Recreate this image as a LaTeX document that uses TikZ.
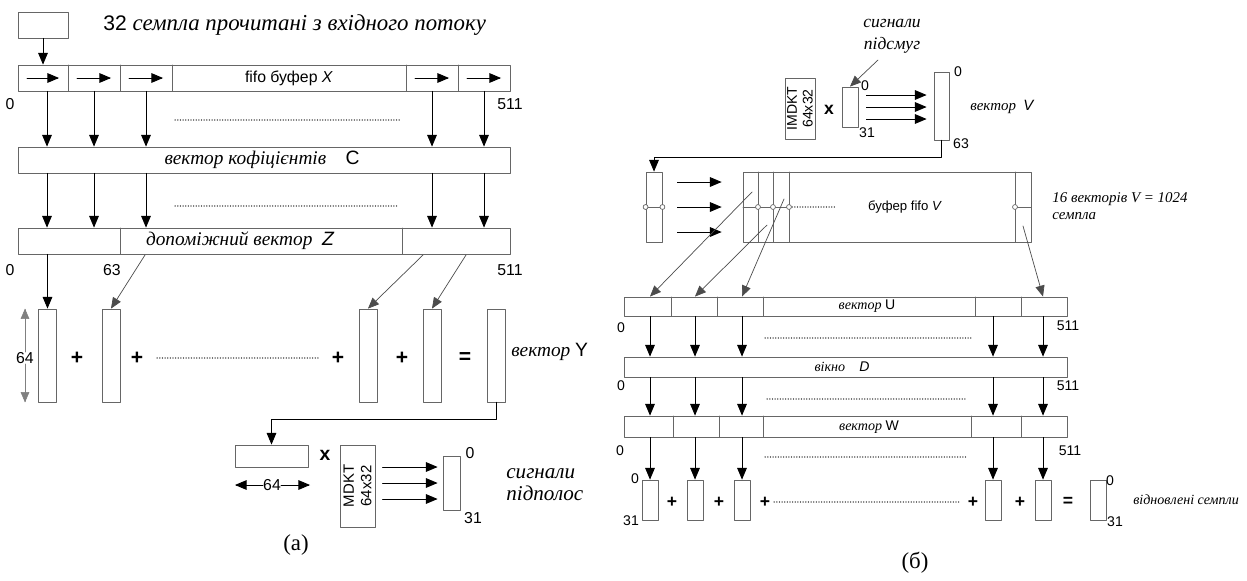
\documentclass[tikz,border=0pt]{standalone}
\usepackage{fontspec}
\setmainfont{Liberation Serif}
\setsansfont{Liberation Sans}
\usetikzlibrary{arrows, calc}

\begin{document}
\begin{tikzpicture}[line cap=round,line join=round,>=triangle 45,x=0.02cm,y=-0.02cm,
		cell/.style={draw=black!60, line width=0.5pt, inner sep=0pt},
		arr/.style={->, draw=black, line width=0.5pt},
		slant/.style={->, draw=black!70, line width=0.4pt},
		dots/.style={draw=black!55, line width=0.6pt, dash pattern=on 0.2pt off 1.3pt},
		numa/.style={font=\sffamily\fontsize{9}{10}\selectfont, inner sep=0pt},
		numb/.style={font=\sffamily\fontsize{8}{9}\selectfont, inner sep=0pt},
		ita/.style={font=\itshape\fontsize{11}{13}\selectfont, inner sep=0pt},
		itb/.style={font=\itshape\fontsize{8}{10}\selectfont, inner sep=0pt},
		op/.style={font=\sffamily\bfseries\fontsize{12}{12}\selectfont, inner sep=0pt}]
		\useasboundingbox (0,0) rectangle (1247,581);
		% (а): input samples and fifo X
		\node[cell, minimum width=1cm, minimum height=0.52cm] (inb) at (43,25) {};
		\node[anchor=west, inner sep=0pt] (intxt) at (103,25) {\sffamily\fontsize{12}{14}\selectfont 32 \rmfamily\itshape\fontsize{13}{15}\selectfont семпла прочитані з вхідного потоку};
		\node[cell, minimum width=9.84cm, minimum height=0.52cm] (fx) at (264,78) {};
		\foreach \x in {68,120,172,406,458} \draw[draw=black!60] (\x,65) -- (\x,91);
		\foreach \l/\r in {18/68,68/120,120/172,406/458,458/510}
			\draw[arr] (\l+9,78) -- (\r-9,78);
		\node[font=\sffamily\fontsize{9}{10}\selectfont] (fxl) at (289,78) {fifo буфер \textit{X}};
		\draw[arr] (inb.south) -- (inb.south |- fx.north);
		\node[numa] (fx0) at (10,104) {0};
		\node[numa] (fx511) at (510,104) {511};
		% coefficients C and vector Z
		\foreach \i/\x in {1/47,2/94,3/146,4/432,5/484} \coordinate (a\i) at (\x,0);
		\node[cell, minimum width=9.84cm, minimum height=0.52cm] (cv) at (264,160) {};
		\node[ita] (cvl) at (262,160) {вектор кофіцієнтів\quad \upshape\sffamily C};
		\node[cell, minimum width=9.84cm, minimum height=0.52cm] (zv) at (264,241) {};
		\foreach \x in {120,402} \draw[draw=black!60] (\x,228) -- (\x,254);
		\node[ita] (zvl) at (240,241) {допоміжний вектор\enspace \sffamily Z};
		\foreach \i in {1,...,5} {
			\draw[arr] (a\i |- fx.south) -- (a\i |- cv.north);
			\draw[arr] (a\i |- cv.south) -- (a\i |- zv.north);
		}
		\draw[dots] (175,120) -- (400,120);
		\draw[dots] (175,206) -- (398,206);
		\node[numa] (zv0) at (10,270) {0};
		\node[numa] (zv63) at (112,270) {63};
		\node[numa] (zv511) at (510,270) {511};
		% sum of columns
		\foreach \n/\x in {c1/47.5,c2/111,c3/368,c4/432,c5/496}
			\node[cell, minimum width=0.36cm, minimum height=1.86cm] (\n) at (\x,355.5) {};
		\foreach \n/\x in {p1/77,p2/137,p3/338,p4/402} \node[op] (\n) at (\x,358) {+};
		\node[op] (eq) at (465,358) {=};
		\draw[dots] (157,358) -- (320,358);
		\node[numa] (h64) at (25,358) {64};
		\draw[->, draw=black!50, line width=0.3pt] (h64.north) -- (h64.north |- c1.north);
		\draw[->, draw=black!50, line width=0.3pt] (h64.south) -- (h64.south |- c1.south);
		\node[ita, anchor=west] (yl) at (511,352) {вектор \upshape\sffamily Y};
		\coordinate (z2) at (145,255);
		\coordinate (z3) at (423,255);
		\coordinate (z4) at (466,255);
		\draw[arr] (c1.north |- zv.south) -- (c1.north);
		\draw[slant] (z2) -- (c2.north);
		\draw[slant] (z3) -- (c3.north);
		\draw[slant] (z4) -- (c4.north);
		% MDKT
		\node[cell, minimum width=1.46cm, minimum height=0.44cm] (bx) at (271.5,456) {};
		\draw[arr] (c5.south) -- ++(0,17) -| (bx.north);
		\node[op, font=\sffamily\bfseries\fontsize{11}{11}\selectfont] (mx) at (325,455) {x};
		\node[numa] (w64) at (272,485) {64};
		\coordinate (wl) at (235,485);
		\coordinate (wr) at (310,485);
		\draw[arr] (w64.west) -- (wl);
		\draw[arr] (w64.east) -- (wr);
		\node[cell, rotate=90, minimum width=1.64cm, minimum height=0.7cm, align=center, font=\sffamily\fontsize{8.5}{10}\selectfont] (mk) at (357.5,486) {MDKT\\64x32};
		\node[cell, minimum width=0.34cm, minimum height=1.08cm] (so) at (451.5,483) {};
		\foreach \d in {-16,0,16}
			\draw[arr] ($(so.west)+(-60,\d)$) -- ($(so.west)+(-5,\d)$);
		\node[numa] (so0) at (470,453) {0};
		\node[numa] (so31) at (473,518) {31};
		\node[anchor=west, align=left, inner sep=0pt, font=\itshape\fontsize{12}{12.5}\selectfont] (sbl) at (506,485) {сигнали\\підполос};
		\node[font=\fontsize{13}{15}\selectfont] (capa) at (296,545) {(а)};
		% (б): IMDKT and vector V
		\node[align=center, inner sep=0pt, font=\itshape\fontsize{10}{12.5}\selectfont] (sig) at (892,36) {сигнали\\підсмуг};
		\node[cell, rotate=90, minimum width=1.22cm, minimum height=0.6cm, align=center, font=\sffamily\fontsize{8}{9}\selectfont] (imk) at (800,108.5) {IMDKT\\64x32};
		\node[op, font=\sffamily\bfseries\fontsize{10}{10}\selectfont] (mx2) at (829,110) {x};
		\node[cell, minimum width=0.32cm, minimum height=0.8cm] (sm) at (850,107) {};
		\coordinate (sgs) at (878,60);
		\draw[slant] (sgs) -- (sm.north);
		\node[numb] (sm0) at (865,86) {0};
		\node[numb] (sm31) at (867,133) {31};
		\node[cell, minimum width=0.3cm, minimum height=1.36cm] (vv) at (941.5,106) {};
		\foreach \d in {-12,0,12}
			\draw[arr] ($(sm.east)+(8,\d)$) -- ($(vv.west |- sm.east)+(-7,\d)$);
		\node[numb] (vv0) at (958,72) {0};
		\node[numb] (vv63) at (961,144) {63};
		\node[itb, anchor=west, font=\itshape\fontsize{8.5}{10}\selectfont] (vl) at (970,107) {вектор\enspace\sffamily V};
		% fifo V
		\node[cell, minimum width=0.32cm, minimum height=1.4cm] (lc) at (654,207) {};
		\draw[arr] (vv.south) -- ++(0,17) -| (lc.north);
		\draw[draw=black!60] (lc.west) -- (lc.east);
		\foreach \p in {lc.west,lc.east} \draw[draw=black!60, fill=white] (\p) circle (1.4pt);
		\node[cell, minimum width=5.76cm, minimum height=1.4cm] (bf) at (887,207) {};
		\foreach \d in {-25,0,25}
			\draw[arr] ($(lc.east)+(15,\d)$) -- ($(bf.west)+(-21,\d)$);
		\foreach \x in {758,773,789,1015} \draw[draw=black!60] (\x,172) -- (\x,242);
		\draw[draw=black!60] (743,207) -- (789,207);
		\draw[draw=black!60] (1015,207) -- (1031,207);
		\draw[dots] (792,207) -- (835,207);
		\foreach \x in {758,773,789,1015} \draw[draw=black!60, fill=white] (\x,207) circle (1.4pt);
		\node[font=\sffamily\fontsize{7.5}{9}\selectfont] (bfl) at (905,207) {буфер fifo \textit{V}};
		\node[anchor=west, align=left, inner sep=0pt, font=\itshape\fontsize{8.5}{10}\selectfont] (bfn) at (1052,206) {16 векторів V = 1024\\семпла};
		% vectors U, D, W
		\foreach \i/\x in {1/650,2/695,3/742,4/993,5/1043} \coordinate (b\i) at (\x,0);
		\coordinate (q1) at (752,192);
		\coordinate (q2) at (767,225);
		\coordinate (q3) at (784,199);
		\coordinate (q4) at (1023,226);
		\node[cell, minimum width=8.86cm, minimum height=0.38cm] (uv) at (845.5,306.5) {};
		\foreach \x in {671,717,763,975,1021} \draw[draw=black!60] (\x,297) -- (\x,316);
		\node[itb] (uvl) at (867,306) {вектор \upshape\sffamily U};
		\draw[slant] (q1) -- (b1 |- uv.north);
		\draw[slant] (q2) -- (b2 |- uv.north);
		\draw[slant] (q3) -- (b3 |- uv.north);
		\draw[slant] (q4) -- (b5 |- uv.north);
		\node[cell, minimum width=8.86cm, minimum height=0.4cm] (dv) at (845.5,367) {};
		\node[itb] (dvl) at (842,367) {вікно\quad \sffamily D};
		\node[cell, minimum width=8.86cm, minimum height=0.42cm] (wv) at (845.5,426.5) {};
		\foreach \x in {673,719,763,971,1021} \draw[draw=black!60] (\x,416) -- (\x,437);
		\node[itb] (wvl) at (869,427) {вектор \upshape\sffamily W};
		\foreach \i in {1,...,5} {
			\draw[arr] (b\i |- uv.south) -- (b\i |- dv.north);
			\draw[arr] (b\i |- dv.south) -- (b\i |- wv.north);
		}
		\draw[dots] (765,338) -- (971,338);
		\draw[dots] (767,399) -- (967,399);
		\draw[dots] (765,457) -- (966,457);
		\node[numb] (uv0) at (621,328) {0};
		\node[numb] (uv511) at (1068,326) {511};
		\node[numb] (dv0) at (621,386) {0};
		\node[numb] (dv511) at (1068,386) {511};
		\node[numb] (wv0) at (620,451) {0};
		\node[numb] (wv511) at (1070,451) {511};
		% restored samples
		\foreach \i in {1,...,5} {
			\node[cell, minimum width=0.32cm, minimum height=0.8cm] (d\i) at (b\i |- 0,500) {};
			\draw[arr] (b\i |- wv.south) -- (d\i.north);
		}
		\node[cell, minimum width=0.32cm, minimum height=0.8cm] (rs) at (1098,500) {};
		\foreach \n/\x in {r1/672,r2/719,r3/765,r4/973,r5/1020} \node[op, font=\sffamily\bfseries\fontsize{10}{10}\selectfont] (\n) at (\x,502) {+};
		\node[op, font=\sffamily\bfseries\fontsize{10}{10}\selectfont] (req) at (1068,502) {=};
		\draw[dots] (774,502) -- (961,502);
		\node[numb] (d0) at (635,479) {0};
		\node[numb] (d31) at (631,521) {31};
		\node[numb] (rs0) at (1110,481) {0};
		\node[numb] (rs31) at (1115,522) {31};
		\node[itb, anchor=west] (rsl) at (1133,500) {відновлені семпли};
		\node[font=\fontsize{13}{15}\selectfont] (capb) at (915,563) {(б)};
	\end{tikzpicture}
\end{document}
